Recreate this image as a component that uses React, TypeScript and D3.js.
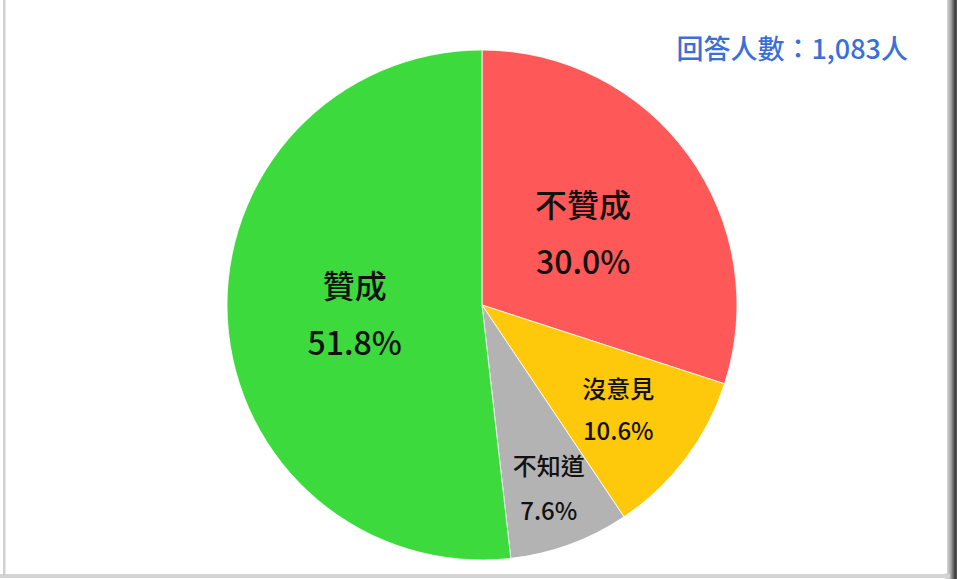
import * as d3 from "d3";
import { useEffect, useRef } from "react";

const categories = ["不贊成", "沒意見", "不知道", "贊成"];
const values = [30.0, 10.6, 7.6, 51.8];
const colors = ["#FF5858", "#FFC90B", "#B3B3B3", "#3CDA3C"];
const respondents = "回答人數：1,083人";

const W = 958;
const H = 579;

const App = () => {
  const svgRef = useRef<SVGSVGElement>(null);

  useEffect(() => {
    const svg = d3.select(svgRef.current);
    svg.selectAll("*").remove();

    const font = "'Noto Sans CJK TC', 'Noto Sans', sans-serif";
    const cx = 482;
    const cy = 305;
    const r = 255;

    // frame with shadow on right
    const defs = svg.append("defs");
    const grad = defs
      .append("linearGradient")
      .attr("id", "shadowR")
      .attr("x1", 0)
      .attr("x2", 1);
    grad.append("stop").attr("offset", "0%").attr("stop-color", "#ffffff");
    grad.append("stop").attr("offset", "55%").attr("stop-color", "#a0a0a0");
    grad.append("stop").attr("offset", "85%").attr("stop-color", "#3c3c3c");
    grad.append("stop").attr("offset", "100%").attr("stop-color", "#5a5a5a");

    svg.append("rect").attr("width", W).attr("height", H).attr("fill", "#fff");
    svg
      .append("rect")
      .attr("x", 944)
      .attr("y", 0)
      .attr("width", 13)
      .attr("height", 579)
      .attr("fill", "url(#shadowR)");
    svg
      .append("rect")
      .attr("x", 0)
      .attr("y", 574)
      .attr("width", 950)
      .attr("height", 4)
      .attr("fill", "#d4d4d4");
    svg
      .append("rect")
      .attr("x", 3)
      .attr("y", 0)
      .attr("width", 2.5)
      .attr("height", 576)
      .attr("fill", "#cfcfd4");
    svg
      .append("rect")
      .attr("x", 6)
      .attr("y", 0)
      .attr("width", 941)
      .attr("height", 573)
      .attr("fill", "#fff");

    const pie = d3
      .pie<number>()
      .sort(null)
      .value((d) => d);
    const arcs = pie(values);
    const arc = d3.arc<d3.PieArcDatum<number>>().innerRadius(0).outerRadius(r);

    const g = svg.append("g").attr("transform", `translate(${cx},${cy})`);
    g.selectAll("path")
      .data(arcs)
      .join("path")
      .attr("d", arc)
      .attr("fill", (_, i) => colors[i])
      .attr("stroke", "#fff")
      .attr("stroke-width", 0.8);

    // label placement (fraction of radius, font size)
    const labelR = [0.49, 0.67, 0.76, 0.5];
    const labelSize = [32, 24, 24, 32];
    const lineGap = [57, 42, 45, 57];

    arcs.forEach((a, i) => {
      const mid = (a.startAngle + a.endAngle) / 2;
      const rr = r * labelR[i];
      const x = Math.sin(mid) * rr;
      const y = -Math.cos(mid) * rr;
      const t = g
        .append("text")
        .attr("text-anchor", "middle")
        .attr("font-family", font)
        .attr("font-size", labelSize[i])
        .attr("font-weight", 500)
        .attr("fill", "#111");
      t.append("tspan")
        .attr("x", x)
        .attr("y", y - lineGap[i] / 2)
        .attr("dominant-baseline", "central")
        .text(categories[i]);
      t.append("tspan")
        .attr("x", x)
        .attr("y", y + lineGap[i] / 2)
        .attr("dominant-baseline", "central")
        .text(`${values[i].toFixed(1)}%`);
    });

    svg
      .append("text")
      .attr("x", 908)
      .attr("y", 47)
      .attr("text-anchor", "end")
      .attr("dominant-baseline", "central")
      .attr("font-family", font)
      .attr("font-size", 27)
      .attr("font-weight", 500)
      .attr("fill", "#3B6FD8")
      .text(respondents);
  }, []);

  return (
    <svg
      ref={svgRef}
      width={W}
      height={H}
      style={{ position: "absolute", left: 0, top: 0 }}
    />
  );
};

export default App;
